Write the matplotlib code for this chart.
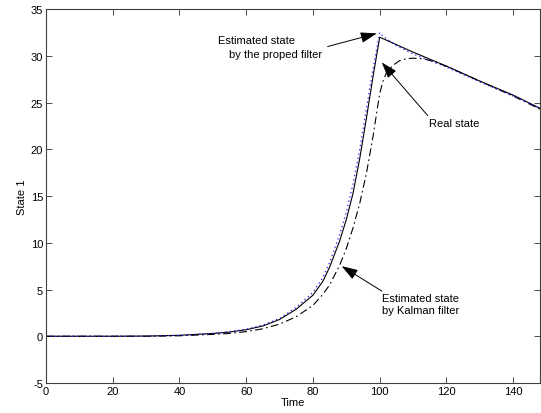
import numpy as np
import matplotlib
matplotlib.use('Agg')
import matplotlib.pyplot as plt

plt.rcParams['font.family'] = ['Liberation Sans', 'DejaVu Sans']
plt.rcParams['axes.unicode_minus'] = False

# 時間軸と各状態の値
t_real = [0, 10, 20, 30, 40, 50, 55, 60, 65, 70, 75, 80, 83, 85, 88, 90, 92, 94, 96, 98, 100,
          110, 120, 130, 140, 148]
real_state = [0, 0, 0, 0.02, 0.1, 0.3, 0.45, 0.7, 1.1, 1.8, 2.9, 4.4, 5.9, 7.4, 10.2, 12.5,
              15.3, 19.0, 23.3, 27.8, 32.0, 30.4, 28.9, 27.3, 25.8, 24.4]

t_prop = [0, 10, 20, 30, 40, 50, 55, 60, 65, 70, 75, 80, 83, 85, 88, 90, 92, 94, 96, 98, 100,
          101, 105, 110, 115, 120, 130, 140, 148]
prop_state = [0, 0, 0, 0.02, 0.1, 0.3, 0.5, 0.75, 1.2, 1.9, 3.1, 4.7, 6.3, 7.9, 10.9, 13.3,
              16.3, 20.0, 24.3, 28.6, 32.5, 32.1, 31.1, 30.2, 29.5, 28.8, 27.2, 25.7, 24.4]

t_kf = [0, 10, 20, 30, 40, 50, 55, 60, 65, 70, 75, 80, 83, 85, 88, 90, 92, 94, 96, 98, 100,
        101, 102, 104, 106, 108, 110, 113, 116, 120, 125, 130, 140, 148]
kf_state = [0, 0, 0, 0, 0.05, 0.2, 0.3, 0.5, 0.8, 1.3, 2.1, 3.3, 4.5, 5.5, 7.6, 9.4, 11.6,
            14.2, 17.4, 21.4, 26.0, 27.3, 28.2, 29.0, 29.5, 29.7, 29.75, 29.7, 29.4, 28.9,
            28.1, 27.3, 25.7, 24.3]

xticks = np.arange(0, 141, 20)
yticks = np.arange(-5, 36, 5)

# プロット領域
fig = plt.figure(figsize=(5.41, 4.14), dpi=100)
ax = fig.add_axes([0.085, 0.0725, 0.913, 0.903])

ax.plot(t_real, real_state, color='k', lw=0.8, ls='-')
ax.plot(t_kf, kf_state, color='k', lw=0.8, ls=(0, (7, 3, 1.5, 3)))
ax.plot(t_prop, prop_state, color='#2020ff', lw=0.9, ls=(0, (1, 2.5)))

# 範囲と目盛り
ax.set_xlim(0, 148)
ax.set_ylim(-5, 35)
ax.set_xticks(xticks)
ax.set_yticks(yticks)
ax.tick_params(direction='in', top=True, right=True, labelsize=8, length=4,
               width=0.6, color='#303030', pad=2)
for sp in ax.spines.values():
    sp.set_color('#404040')
    sp.set_linewidth(0.8)

ax.set_xlabel('Time', fontsize=8, labelpad=1)
ax.set_ylabel('State 1', fontsize=8, labelpad=3)

# 注釈
arrow = dict(arrowstyle='-|>,head_length=0.9,head_width=0.3', color='k', lw=0.7,
             mutation_scale=11, shrinkA=0, shrinkB=0)
ax.annotate('', xy=(99.1, 32.4), xytext=(84.4, 31.0), arrowprops=arrow)
ax.annotate('', xy=(100.6, 29.3), xytext=(114.4, 23.6), arrowprops=arrow)
ax.annotate('', xy=(88.6, 7.5), xytext=(100.6, 4.84), arrowprops=arrow)

ax.text(51.5, 31.7, 'Estimated state', fontsize=8, ha='left', va='center')
ax.text(54.8, 30.25, 'by the proped filter', fontsize=8, ha='left', va='center')
ax.text(114.7, 22.86, 'Real state', fontsize=8, ha='left', va='center')
ax.text(100.6, 4.09, 'Estimated state', fontsize=8, ha='left', va='center')
ax.text(100.6, 2.76, 'by Kalman filter', fontsize=8, ha='left', va='center')

fig.savefig('out.png', dpi=100)
